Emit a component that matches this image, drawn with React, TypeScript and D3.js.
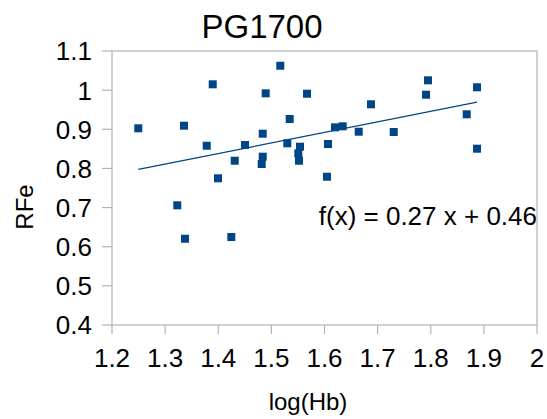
import React from "react";
import * as d3 from "d3";

const title = "PG1700";
const xLabel = "log(Hb)";
const yLabel = "RFe";
const xTicks = [1.2, 1.3, 1.4, 1.5, 1.6, 1.7, 1.8, 1.9, 2];
const yTicks = [0.4, 0.5, 0.6, 0.7, 0.8, 0.9, 1, 1.1];
const logHb = [
  1.2495, 1.3355, 1.3896, 1.3783, 1.3995, 1.431, 1.4504, 1.4837, 1.4893, 1.4837,
  1.4818, 1.5168, 1.5345, 1.530, 1.5539, 1.5507, 1.552, 1.5671, 1.6066, 1.6047,
  1.6198, 1.6343, 1.6644, 1.6875, 1.7303, 1.7948, 1.7911, 1.8871, 1.8677, 1.8871,
  1.3229, 1.3374, 1.4246,
];
const rfe = [
  0.9025, 0.9092, 1.0149, 0.858, 0.7748, 0.8197, 0.8598, 0.8887, 0.9919, 0.830,
  0.8113, 1.0624, 0.9263, 0.8642, 0.8555, 0.8386, 0.8197, 0.9909, 0.8624, 0.7788,
  0.905, 0.9076, 0.8938, 0.9638, 0.893, 1.0251, 0.9883, 1.0073, 0.9383, 0.8504,
  0.7058, 0.6204, 0.6248,
];
const slope = 0.27;
const intercept = 0.46;
const equation = "f(x) = 0.27 x + 0.46";

const W = 547;
const H = 419;
const left = 112;
const right = 537;
const top = 51;
const bottom = 325;
const blue = "#004586";
const gray = "#b3b3b3";
const font = "'Liberation Sans', Arial, sans-serif";

export default function App() {
  const x = d3.scaleLinear().domain([1.2, 2]).range([left, right]);
  const y = d3.scaleLinear().domain([0.4, 1.1]).range([bottom, top]);
  const [xmin, xmax] = d3.extent(logHb) as [number, number];
  const line = d3
    .line<number>()
    .x((d) => x(d))
    .y((d) => y(slope * d + intercept));
  const ms = 8;
  return (
    <svg
      width={W}
      height={H}
      style={{ position: "absolute", left: 0, top: 0, background: "#fff" }}
      fontFamily={font}
    >
      <rect x={0} y={0} width={W} height={H} fill="#fff" />
      <text x={262} y={38} fontSize={33} textAnchor="middle" fill="#000">
        {title}
      </text>
      {/* frame */}
      <rect x={left} y={top} width={right - left} height={bottom - top} fill="none" stroke={gray} strokeWidth={1.2} />
      {yTicks.map((t) => (
        <g key={"y" + t}>
          <line x1={left - 10} x2={left} y1={y(t)} y2={y(t)} stroke={gray} strokeWidth={1.2} />
          <text x={92} y={y(t)} dy="0.36em" fontSize={26} textAnchor="end" fill="#000">
            {String(t)}
          </text>
        </g>
      ))}
      {xTicks.map((t) => (
        <g key={"x" + t}>
          <line x1={x(t)} x2={x(t)} y1={bottom} y2={bottom + 9} stroke={gray} strokeWidth={1.2} />
          <text x={x(t)} y={367} fontSize={26} textAnchor="middle" fill="#000">
            {String(t)}
          </text>
        </g>
      ))}
      <text x={308} y={410} fontSize={24} textAnchor="middle" fill="#000">
        {xLabel}
      </text>
      <text
        transform={`translate(33, 207) rotate(-90)`}
        fontSize={24}
        textAnchor="middle"
        fill="#000"
      >
        {yLabel}
      </text>
      <path d={line([xmin, xmax]) || ""} stroke={blue} strokeWidth={1.3} fill="none" />
      {logHb.map((v, i) => (
        <rect
          key={i}
          x={x(v) - ms / 2}
          y={y(rfe[i]) - ms / 2}
          width={ms}
          height={ms}
          fill={blue}
        />
      ))}
      <text x={537} y={225} fontSize={26} textAnchor="end" fill="#000">
        {equation}
      </text>
    </svg>
  );
}
